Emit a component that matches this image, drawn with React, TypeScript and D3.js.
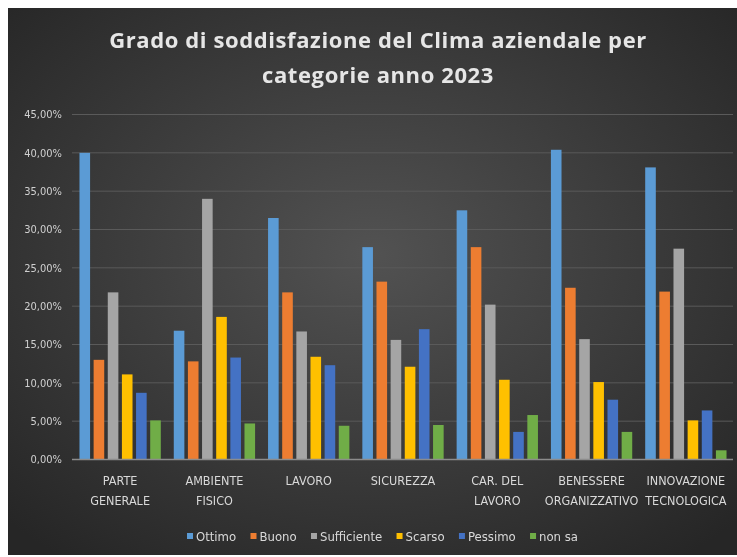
import React from 'react';
import * as d3 from 'd3';

const categories = [
  ['PARTE', 'GENERALE'],
  ['AMBIENTE', 'FISICO'],
  ['LAVORO'],
  ['SICUREZZA'],
  ['CAR. DEL', 'LAVORO'],
  ['BENESSERE', 'ORGANIZZATIVO'],
  ['INNOVAZIONE', 'TECNOLOGICA'],
];
const seriesNames = ['Ottimo', 'Buono', 'Sufficiente', 'Scarso', 'Pessimo', 'non sa'];
const seriesColors = ['#5b9bd5', '#ed7d31', '#a5a5a5', '#ffc000', '#4472c4', '#70ad47'];

const ottimo = [40.0, 16.8, 31.5, 27.7, 32.5, 40.4, 38.1];
const buono = [13.0, 12.8, 21.8, 23.2, 27.7, 22.4, 21.9];
const sufficiente = [21.8, 34.0, 16.7, 15.6, 20.2, 15.7, 27.5];
const scarso = [11.1, 18.6, 13.4, 12.1, 10.4, 10.1, 5.1];
const pessimo = [8.7, 13.3, 12.3, 17.0, 3.6, 7.8, 6.4];
const nonSa = [5.1, 4.7, 4.4, 4.5, 5.8, 3.6, 1.2];
const seriesValues = [ottimo, buono, sufficiente, scarso, pessimo, nonSa];

const yTicks = [0, 5, 10, 15, 20, 25, 30, 35, 40, 45];
const titleLines = ['Grado di soddisfazione del Clima aziendale per', 'categorie anno 2023'];

const W = 729;
const H = 547;
const labelFont = "'DejaVu Sans Condensed', Roboto, sans-serif";

export default function App() {
  const catKeys = categories.map((c) => c.join(' '));
  const x0 = d3.scaleBand().domain(catKeys).range([65, 725]).paddingInner(0.1).paddingOuter(0.05);
  const x1 = d3.scaleBand().domain(seriesNames).range([0, x0.bandwidth()]).paddingInner(0.25).paddingOuter(0.125);
  const y = d3.scaleLinear().domain([0, 45]).range([451.5, 106.5]);
  const fmt = (v) => d3.format('.2f')(v).replace('.', ',') + '%';

  // legend: spread the items over the same span as the original
  const ctx = document.createElement('canvas').getContext('2d');
  ctx.font = `13px ${labelFont}`;
  const widths = seriesNames.map((n) => ctx.measureText(n).width);
  const span = 391;
  const gap = (span - d3.sum(widths) - seriesNames.length * 9) / (seriesNames.length - 1);
  let lx = 179;
  const legend = seriesNames.map((n, i) => {
    const item = { n, i, x: lx };
    lx += 9 + widths[i] + gap;
    return item;
  });

  return (
    <svg width={W} height={H} style={{ position: 'fixed', left: 8, top: 8, display: 'block' }}>
      <defs>
        <radialGradient id="bg" cx="0.5" cy="0.45" r="0.7">
          <stop offset="0" stopColor="#525252" />
          <stop offset="1" stopColor="#262626" />
        </radialGradient>
      </defs>
      <rect x={0} y={0} width={W} height={H} fill="url(#bg)" />

      <g fill="#e6e6e6" fontFamily="'Open Sans', sans-serif" fontWeight={700} fontSize={22} textAnchor="middle">
        {titleLines.map((t, i) => (
          <text key={i} x={370} y={40 + i * 35} letterSpacing={0.6}>{t}</text>
        ))}
      </g>

      <g>
        {yTicks.map((t) => (
          <g key={t}>
            {t > 0 && <line x1={64} x2={725} y1={y(t)} y2={y(t)} stroke="#5a5a5a" strokeWidth={1} />}
            <text x={54} y={y(t)} dy="0.35em" textAnchor="end" fill="#d0d0d0" fontSize={11} fontFamily={labelFont}>
              {fmt(t)}
            </text>
          </g>
        ))}
      </g>

      {catKeys.map((c, ci) => (
        <g key={c} transform={`translate(${x0(c)},0)`}>
          {seriesNames.map((s, si) => (
            <rect
              key={s}
              x={x1(s)}
              y={y(seriesValues[si][ci])}
              width={x1.bandwidth()}
              height={y(0) - y(seriesValues[si][ci])}
              fill={seriesColors[si]}
            />
          ))}
        </g>
      ))}
      <line x1={64} x2={725} y1={y(0)} y2={y(0)} stroke="#8c8c8c" strokeWidth={1.5} />

      <g fill="#d9d9d9" fontSize={12.5} fontFamily={labelFont} textAnchor="middle">
        {categories.map((lines, ci) => (
          <text key={ci} x={x0(catKeys[ci]) + x0.bandwidth() / 2} y={477}>
            {lines.map((l, li) => (
              <tspan key={li} x={x0(catKeys[ci]) + x0.bandwidth() / 2} dy={li === 0 ? 0 : 20}>{l}</tspan>
            ))}
          </text>
        ))}
      </g>

      <g fontSize={13} fontFamily={labelFont} fill="#d9d9d9">
        {legend.map((it) => (
          <g key={it.n}>
            <rect x={it.x} y={525} width={6} height={6} fill={seriesColors[it.i]} />
            <text x={it.x + 9} y={528} dy="0.35em">{it.n}</text>
          </g>
        ))}
      </g>
    </svg>
  );
}
